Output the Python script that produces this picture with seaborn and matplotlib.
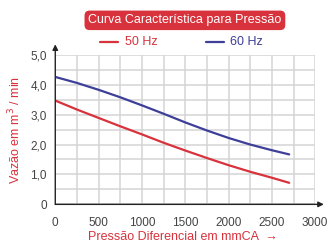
import matplotlib
matplotlib.use('Agg')
import matplotlib.pyplot as plt
import seaborn as sns
import pandas as pd

# dados
pressao = [0, 250, 500, 750, 1000, 1250, 1500, 1750, 2000, 2250, 2500, 2700]
vazao_50hz = [3.47, 3.17, 2.89, 2.61, 2.34, 2.06, 1.80, 1.55, 1.31, 1.09, 0.89, 0.72]
vazao_60hz = [4.26, 4.06, 3.83, 3.58, 3.31, 3.03, 2.74, 2.47, 2.22, 2.00, 1.81, 1.67]
x_ticks = [0, 500, 1000, 1500, 2000, 2500, 3000]
y_ticks = [0, 1, 2, 3, 4, 5]
y_labels = ['0', '1,0', '2,0', '3,0', '4,0', '5,0']

vermelho = '#d8323c'
azul = '#3d3f98'

df = pd.DataFrame({
    'pressao': pressao * 2,
    'vazao': vazao_50hz + vazao_60hz,
    'freq': ['50 Hz'] * len(pressao) + ['60 Hz'] * len(pressao),
})

sns.set_style('white')
plt.rcParams['font.family'] = ['Liberation Sans', 'DejaVu Sans']

fig = plt.figure(figsize=(3.29, 2.48), dpi=100)
ax = fig.add_axes([0.168, 0.176, 0.79, 0.603])

sns.lineplot(data=df, x='pressao', y='vazao', hue='freq',
             palette={'50 Hz': vermelho, '60 Hz': azul},
             linewidth=1.6, legend=False, ax=ax, zorder=3)

ax.set_xlim(0, 3000)
ax.set_ylim(0, 5)
ax.set_xticks([i * 250 for i in range(13)], minor=True)
ax.set_yticks([i * 0.5 for i in range(11)], minor=True)
ax.set_xticks(x_ticks)
ax.set_yticks(y_ticks)
ax.set_yticklabels(y_labels)
ax.grid(True, which='both', color='#d4d4d4', linewidth=1.1)
ax.tick_params(which='major', length=3, width=0.8, color='#333333',
               labelsize=8.5, labelcolor='#444444', pad=3)
ax.tick_params(which='minor', length=0)
ax.tick_params(axis='x', pad=6)
for s in ['top', 'right', 'left', 'bottom']:
    ax.spines[s].set_visible(False)

# eixos com setas
ax.annotate('', xy=(0, 5.35), xytext=(0, 0), annotation_clip=False,
            arrowprops=dict(arrowstyle='-|>', color='#222222', lw=1.0,
                            mutation_scale=8, shrinkA=0, shrinkB=0))
ax.annotate('', xy=(3100, 0), xytext=(0, 0), annotation_clip=False,
            arrowprops=dict(arrowstyle='-|>', color='#222222', lw=1.0,
                            mutation_scale=8, shrinkA=0, shrinkB=0))

ax.set_xlabel('')
ax.set_ylabel('Vazão em m$^3$ / min', color=vermelho, fontsize=9, labelpad=5)
fig.text(0.555, 0.02, 'Pressão Diferencial em mmCA  \u2192', color=vermelho,
         fontsize=9, ha='center', va='bottom')

# título em caixa vermelha
fig.text(0.562, 0.918, 'Curva Característica para Pressão', color='white',
         fontsize=9, ha='center', va='center',
         bbox=dict(boxstyle='round,pad=0.3,rounding_size=0.4',
                   fc=vermelho, ec='none'))

# legenda
fig.lines.append(plt.Line2D([0.305, 0.36], [0.83, 0.83], color=vermelho,
                            lw=1.6, transform=fig.transFigure))
fig.text(0.38, 0.83, '50 Hz', color=vermelho, fontsize=9, va='center')
fig.lines.append(plt.Line2D([0.625, 0.68], [0.83, 0.83], color=azul,
                            lw=1.6, transform=fig.transFigure))
fig.text(0.70, 0.83, '60 Hz', color=azul, fontsize=9, va='center')

fig.savefig('out.png', dpi=100)
